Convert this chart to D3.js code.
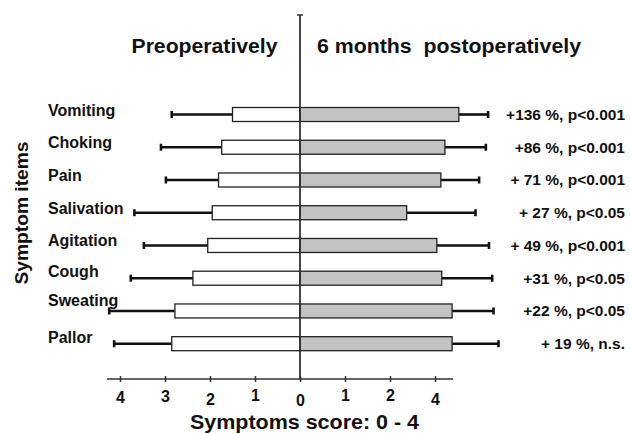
<!DOCTYPE html>
<html>
<head>
<meta charset="utf-8">
<script src="https://cdn.jsdelivr.net/npm/d3@7"></script>
<style>
  html, body { margin: 0; padding: 0; background: #fff; }
  svg { display: block; font-family: "Liberation Sans", Arial, Helvetica, sans-serif; font-weight: bold; }
</style>
</head>
<body>
<svg id="chart" width="630" height="434"></svg>
<script>
// Symptom items, mean score (0-4) and SD before and 6 months after surgery
const symptoms = ["Vomiting", "Choking", "Pain", "Salivation", "Agitation", "Cough", "Sweating", "Pallor"];
const preMean  = [1.50, 1.74, 1.81, 1.95, 2.05, 2.38, 2.78, 2.85];
const preSD    = [1.35, 1.35, 1.17, 1.73, 1.42, 1.38, 1.46, 1.28];
const postMean = [3.53, 3.22, 3.13, 2.37, 3.04, 3.15, 3.38, 3.38];
const postSD   = [0.65, 0.91, 0.85, 1.53, 1.16, 1.12, 0.92, 1.03];
const changes  = ["+136 %, p<0.001", "+86 %, p<0.001", "+ 71 %, p<0.001", "+ 27 %, p<0.05",
                  "+ 49 %, p<0.001", "+31 %, p<0.05", "+22 %, p<0.05", "+ 19 %, n.s."];

// Axis ticks
const leftTicks = [4, 3, 2, 1, 0];
const leftTickLabels = ["4", "3", "2", "1", "0"];
const rightTicks = [1, 2, 3];
const rightTickLabels = ["1", "2", "4"];

const svg = d3.select("#chart");
const ink = "#111";
const line = "#333";

const x0 = 300;
const xL = d3.scaleLinear().domain([0, 4]).range([x0, 120]);
const xR = d3.scaleLinear().domain([0, 4]).range([x0, 480]);
const y = d3.scalePoint().domain(symptoms).range([114.5, 343.7]);
const barH = 14;
const axisY = 379;

const rows = symptoms.map((s, i) => ({
  name: s, pre: preMean[i], preSD: preSD[i], post: postMean[i], postSD: postSD[i], change: changes[i]
}));

// Error bars (drawn outward from the bar ends)
const err = svg.append("g").attr("stroke", ink).attr("stroke-width", 2.6);
err.selectAll("line.pre").data(rows).join("line").attr("class", "pre")
  .attr("x1", d => xL(d.pre)).attr("x2", d => xL(d.pre + d.preSD))
  .attr("y1", d => y(d.name)).attr("y2", d => y(d.name));
err.selectAll("line.precap").data(rows).join("line").attr("class", "precap")
  .attr("x1", d => xL(d.pre + d.preSD)).attr("x2", d => xL(d.pre + d.preSD))
  .attr("y1", d => y(d.name) - 3.5).attr("y2", d => y(d.name) + 3.5);
err.selectAll("line.post").data(rows).join("line").attr("class", "post")
  .attr("x1", d => xR(d.post)).attr("x2", d => xR(d.post + d.postSD))
  .attr("y1", d => y(d.name)).attr("y2", d => y(d.name));
err.selectAll("line.postcap").data(rows).join("line").attr("class", "postcap")
  .attr("x1", d => xR(d.post + d.postSD)).attr("x2", d => xR(d.post + d.postSD))
  .attr("y1", d => y(d.name) - 3.5).attr("y2", d => y(d.name) + 3.5);

// Bars: preoperative to the left (white), postoperative to the right (grey)
svg.append("g").selectAll("rect").data(rows).join("rect")
  .attr("x", d => xL(d.pre)).attr("y", d => y(d.name) - barH / 2)
  .attr("width", d => xL(0) - xL(d.pre)).attr("height", barH)
  .attr("fill", "#fff").attr("stroke", "#222").attr("stroke-width", 1.3);
svg.append("g").selectAll("rect").data(rows).join("rect")
  .attr("x", xR(0)).attr("y", d => y(d.name) - barH / 2)
  .attr("width", d => xR(d.post) - xR(0)).attr("height", barH)
  .attr("fill", "#c3c3c3").attr("stroke", "#222").attr("stroke-width", 1.3);

// Central zero line with a small cap on top
svg.append("line").attr("x1", x0).attr("x2", x0).attr("y1", 15).attr("y2", axisY)
  .attr("stroke", line).attr("stroke-width", 1.8);
svg.append("line").attr("x1", x0 - 3).attr("x2", x0 + 3).attr("y1", 15).attr("y2", 15)
  .attr("stroke", line).attr("stroke-width", 1.5);

// Bottom axis line
svg.append("line").attr("x1", 107).attr("x2", 453).attr("y1", axisY).attr("y2", axisY)
  .attr("stroke", line).attr("stroke-width", 1.6);

// Tick label nudges (vertical) as printed
const leftNudge = [1, 0, 3, -1, 4];
const rightNudge = [-1, -1, 3];

function drawAxis(scale, ticks, labels, nudge) {
  const g = svg.append("g").attr("transform", `translate(0,${axisY})`)
    .call(d3.axisBottom(scale).tickValues(ticks).tickSize(3).tickPadding(9)
      .tickFormat((d, i) => labels[i]));
  g.select(".domain").remove();
  g.selectAll(".tick line").attr("y1", -3).attr("y2", 3).attr("stroke", line).attr("stroke-width", 1.5);
  g.selectAll(".tick text")
    .attr("font-family", "'Liberation Sans', Arial, sans-serif")
    .attr("font-weight", "bold").attr("font-size", 16).attr("fill", ink)
    .attr("dy", (d, i) => (0.71 + nudge[i] / 16) + "em");
}
drawAxis(xL, leftTicks, leftTickLabels, leftNudge);
drawAxis(xR, rightTicks, rightTickLabels, rightNudge);

// Row labels
const labelShift = [0, 0, 0, 0, 0, -2, -6, -2];
svg.append("g").selectAll("text").data(rows).join("text")
  .attr("x", 48).attr("y", (d, i) => y(d.name) + 1 + labelShift[i])
  .attr("font-size", 16).attr("fill", ink)
  .text(d => d.name);

// Change annotations on the right
svg.append("g").selectAll("text").data(rows).join("text")
  .attr("x", 625).attr("y", d => y(d.name) + 5.5)
  .attr("text-anchor", "end").attr("font-size", 15.5).attr("fill", ink)
  .text(d => d.change);

// Panel headings
svg.append("text").attr("x", 131.5).attr("y", 53).attr("font-size", 19.5).attr("fill", ink)
  .attr("textLength", 146).attr("lengthAdjust", "spacingAndGlyphs").text("Preoperatively");
svg.append("text").attr("x", 317).attr("y", 53).attr("font-size", 19.5).attr("fill", ink)
  .attr("textLength", 264).attr("lengthAdjust", "spacingAndGlyphs").text("6 months  postoperatively")
  .style("white-space", "pre");

// Axis titles
svg.append("text").attr("x", 190).attr("y", 429).attr("font-size", 19.5).attr("fill", ink)
  .attr("textLength", 229).attr("lengthAdjust", "spacingAndGlyphs").text("Symptoms score: 0 - 4");
svg.append("text").attr("transform", "translate(28,213) rotate(-90)")
  .attr("text-anchor", "middle").attr("font-size", 18).attr("fill", ink)
  .attr("textLength", 143).attr("lengthAdjust", "spacingAndGlyphs").text("Symptom items");
</script>
</body>
</html>
